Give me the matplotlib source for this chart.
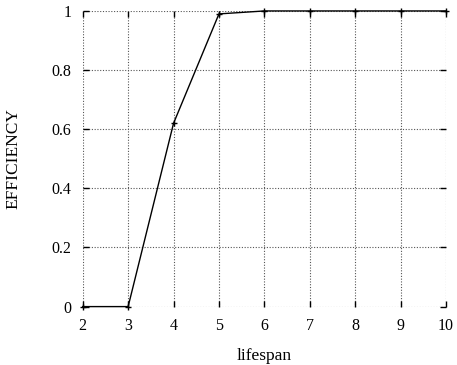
import matplotlib
matplotlib.use("Agg")
import matplotlib.pyplot as plt

lifespan = [2, 3, 4, 5, 6, 7, 8, 9, 10]
efficiency = [0, 0, 0.62, 0.99, 1, 1, 1, 1, 1]
xticks = [2, 3, 4, 5, 6, 7, 8, 9, 10]
yticks = [0, 0.2, 0.4, 0.6, 0.8, 1]
ytick_labels = ["0", "0.2", "0.4", "0.6", "0.8", "1"]

plt.rcParams["font.family"] = ["Liberation Serif", "DejaVu Serif"]

fig = plt.figure(figsize=(4.57, 3.65), dpi=100)
ax = fig.add_axes([0.181, 0.160, 0.795, 0.810])

ax.plot(lifespan, efficiency, color="black", linewidth=1.0,
        marker="+", markersize=5, markeredgewidth=1.0, clip_on=False, zorder=3)

ax.set_xlim(2, 10)
ax.set_ylim(0, 1)
ax.set_xticks(xticks)
ax.set_yticks(yticks)
ax.set_yticklabels(ytick_labels)

for s in ax.spines.values():
    s.set_visible(False)

ax.grid(True, color="#555555", linestyle=(0, (1, 1.5)), linewidth=0.8)
ax.tick_params(direction="in", length=4, width=1.0, top=True, right=True,
               labelsize=11.5, colors="black")
ax.tick_params(axis="y", pad=8)
ax.tick_params(axis="x", pad=8.5)

ax.set_xlabel("lifespan", fontsize=12.5, labelpad=10)
ax.set_ylabel("EFFICIENCY", fontsize=12.5, labelpad=22)

fig.savefig("out.png", dpi=100)
